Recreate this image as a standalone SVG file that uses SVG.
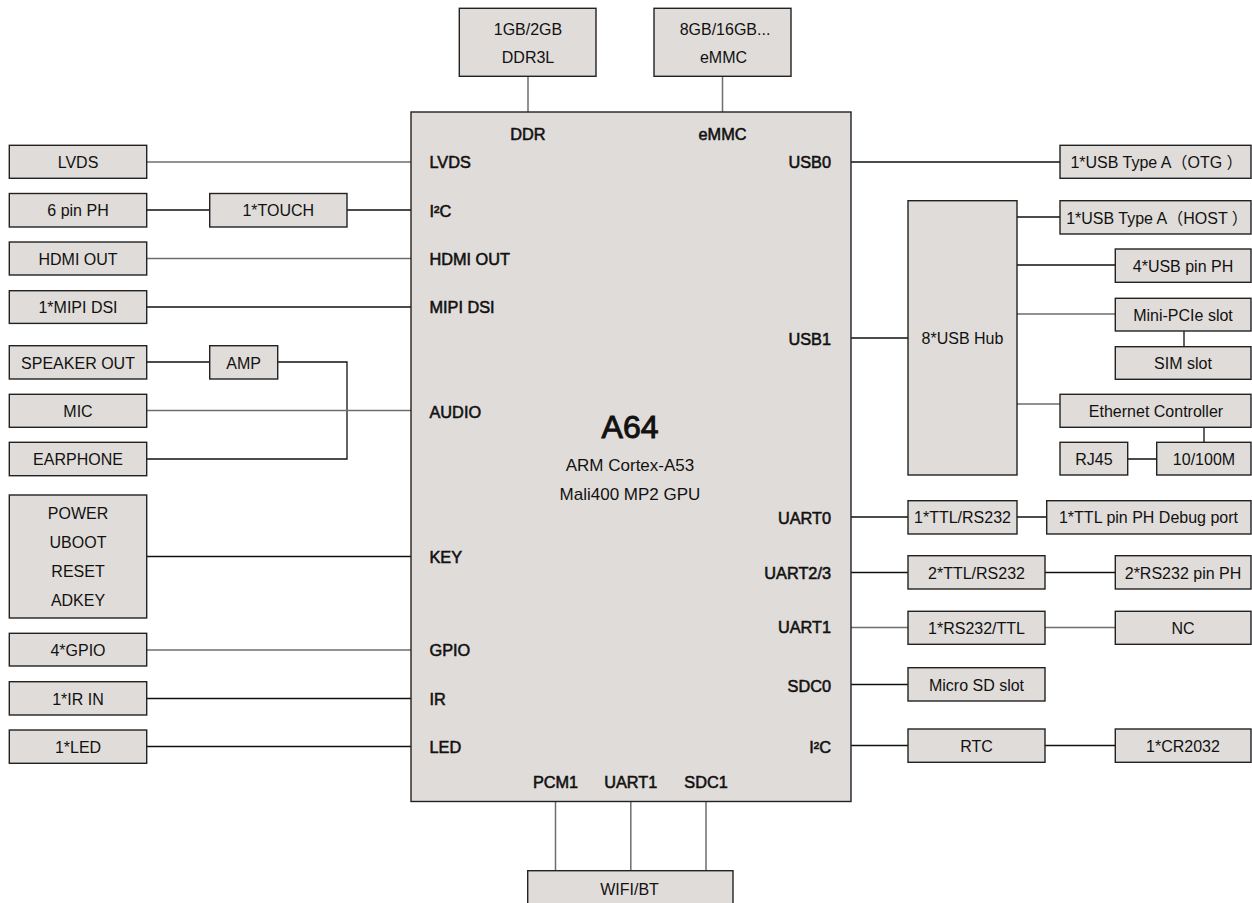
<svg xmlns="http://www.w3.org/2000/svg" width="1252" height="903" viewBox="0 0 1252 903">
<style>
.b{fill:#e0dcd9;stroke:#222;stroke-width:1.4}
.t{font-family:"Liberation Sans","Noto Sans CJK SC",Arial,sans-serif;font-size:16px;fill:#111;text-anchor:middle}
.l{font-family:"Liberation Sans",Arial,sans-serif;font-size:16.3px;fill:#111;stroke:#111;stroke-width:0.55}
.r{text-anchor:end}
.m{text-anchor:middle}
.c{fill:none;stroke:#111;stroke-width:1.3}
.g{fill:none;stroke:#6e6e6e;stroke-width:1.5}
</style>
<rect width="1252" height="903" fill="#fff"/>
<g id="connectors">
<path class="g" d="M528 76V112M722.5 76V112"/>
<path class="g" d="M146.7 162H411"/>
<path class="c" d="M146.7 210H209.7M347 210H411"/>
<path class="g" d="M146.7 258.5H411"/>
<path class="c" d="M146.7 307H411"/>
<path class="c" d="M146.7 362H209.7M277.7 362H347V459H146.7"/>
<path class="g" d="M146.7 410.5H411"/>
<path class="c" d="M146.7 556.5H411"/>
<path class="g" d="M146.7 650H411"/>
<path class="c" d="M146.7 698.5H411M146.7 746.5H411"/>
<path class="g" d="M555.5 801.5V871M630.8 801.5V871M706 801.5V871"/>
<path class="c" d="M851 162H1060M851 338H908M1017 217H1060M1017 265H1115"/>
<path class="g" d="M1017 314H1115M1017 404H1060"/>
<path class="c" d="M1184 331V347M1204 427V442M1127.7 459H1156.7"/>
<path class="c" d="M851 517H908M1017 517H1046.7M851 572.5H908M1045 572.5H1115"/>
<path class="g" d="M851 627.5H908M1045 627.5H1115"/>
<path class="c" d="M851 684.5H908M851 745.5H908M1045 745.5H1115"/>
</g>
<g id="a64">
<rect class="b" x="411" y="112" width="440" height="689.5"/>
<text class="l m" x="630" y="438" style="font-size:32px;stroke-width:1">A64</text>
<text class="t" x="630" y="470.5" style="font-size:17px">ARM Cortex-A53</text>
<text class="t" x="630" y="500" style="font-size:17px">Mali400 MP2 GPU</text>
<text class="l m" x="528" y="140">DDR</text>
<text class="l m" x="722.5" y="140">eMMC</text>
<text class="l" x="429.5" y="168">LVDS</text>
<text class="l" x="429.5" y="216.5">I²C</text>
<text class="l" x="429.5" y="265">HDMI OUT</text>
<text class="l" x="429.5" y="313.3">MIPI DSI</text>
<text class="l" x="429.5" y="417.5">AUDIO</text>
<text class="l" x="429.5" y="563.3">KEY</text>
<text class="l" x="429.5" y="656">GPIO</text>
<text class="l" x="429.5" y="705">IR</text>
<text class="l" x="429.5" y="752.7">LED</text>
<text class="l r" x="831" y="167.5">USB0</text>
<text class="l r" x="831" y="345">USB1</text>
<text class="l r" x="831" y="524">UART0</text>
<text class="l r" x="831" y="578.5">UART2/3</text>
<text class="l r" x="831" y="633.3">UART1</text>
<text class="l r" x="831" y="691.7">SDC0</text>
<text class="l r" x="831" y="753.3">I²C</text>
<text class="l m" x="555.5" y="788.3">PCM1</text>
<text class="l m" x="630.8" y="788.3">UART1</text>
<text class="l m" x="706" y="788.3">SDC1</text>
</g>
<g id="ddr"><rect class="b" x="459.3" y="8.3" width="136.7" height="68"/><text class="t" x="528" y="35">1GB/2GB</text><text class="t" x="528" y="63.3">DDR3L</text></g>
<g id="emmc"><rect class="b" x="654" y="8.3" width="137" height="68"/><text class="t" x="725" y="35">8GB/16GB...</text><text class="t" x="723.5" y="63.3">eMMC</text></g>
<g id="lvds"><rect class="b" x="9.3" y="145.3" width="137.4" height="33"/><text class="t" x="78" y="167.5">LVDS</text></g>
<g id="pinph6"><rect class="b" x="9.3" y="193.5" width="137.4" height="33.5"/><text class="t" x="78" y="216">6 pin PH</text></g>
<g id="touch"><rect class="b" x="209.7" y="193.5" width="137.3" height="33.5"/><text class="t" x="278.3" y="216">1*TOUCH</text></g>
<g id="hdmi"><rect class="b" x="9.3" y="242" width="137.4" height="33"/><text class="t" x="78" y="264.5">HDMI OUT</text></g>
<g id="mipi"><rect class="b" x="9.3" y="290.7" width="137.4" height="32.7"/><text class="t" x="78" y="313">1*MIPI DSI</text></g>
<g id="speaker"><rect class="b" x="9.3" y="345.7" width="137.4" height="33.3"/><text class="t" x="78" y="368.5">SPEAKER OUT</text></g>
<g id="amp"><rect class="b" x="209.7" y="345.7" width="68" height="33.3"/><text class="t" x="243.7" y="368.5">AMP</text></g>
<g id="mic"><rect class="b" x="9.3" y="394.3" width="137.4" height="33"/><text class="t" x="78" y="416.5">MIC</text></g>
<g id="earphone"><rect class="b" x="9.3" y="442.3" width="137.4" height="33.4"/><text class="t" x="78" y="465">EARPHONE</text></g>
<g id="keys"><rect class="b" x="9.3" y="495" width="137.4" height="123"/><text class="t" x="78" y="519.3">POWER</text><text class="t" x="78" y="548.3">UBOOT</text><text class="t" x="78" y="577.3">RESET</text><text class="t" x="78" y="606">ADKEY</text></g>
<g id="gpio"><rect class="b" x="9.3" y="633.3" width="137.4" height="32.7"/><text class="t" x="78" y="655.5">4*GPIO</text></g>
<g id="irin"><rect class="b" x="9.3" y="681.7" width="137.4" height="33.3"/><text class="t" x="78" y="704.5">1*IR IN</text></g>
<g id="led"><rect class="b" x="9.3" y="730" width="137.4" height="33.3"/><text class="t" x="78" y="752.5">1*LED</text></g>
<g id="wifibt"><rect class="b" x="527.7" y="870.7" width="205.3" height="40"/><text class="t" x="629.5" y="895">WIFI/BT</text></g>
<g id="usbotg"><rect class="b" x="1060" y="145.3" width="191" height="33"/><text class="t" x="1156.5" y="167.5">1*USB Type A（OTG ）</text></g>
<g id="usbhub"><rect class="b" x="908" y="200.7" width="109" height="274.3"/><text class="t" x="962.5" y="344">8*USB Hub</text></g>
<g id="usbhost"><rect class="b" x="1060" y="200.7" width="191" height="33.3"/><text class="t" x="1157" y="223.5">1*USB Type A（HOST ）</text></g>
<g id="usbpin"><rect class="b" x="1115.3" y="249" width="135.7" height="33.3"/><text class="t" x="1183" y="271.5">4*USB pin PH</text></g>
<g id="minipcie"><rect class="b" x="1115.3" y="298.3" width="135.7" height="32.7"/><text class="t" x="1183" y="320.5">Mini-PCIe slot</text></g>
<g id="sim"><rect class="b" x="1115.3" y="346.7" width="135.7" height="32.6"/><text class="t" x="1183" y="369">SIM slot</text></g>
<g id="eth"><rect class="b" x="1060" y="394.3" width="191" height="33"/><text class="t" x="1156" y="416.5">Ethernet Controller</text></g>
<g id="rj45"><rect class="b" x="1060" y="442.3" width="67.7" height="32.7"/><text class="t" x="1094" y="464.5">RJ45</text></g>
<g id="m100"><rect class="b" x="1156.7" y="442.3" width="94.3" height="32.7"/><text class="t" x="1204" y="464.5">10/100M</text></g>
<g id="ttl0"><rect class="b" x="908" y="500.7" width="109" height="33.3"/><text class="t" x="962.5" y="523">1*TTL/RS232</text></g>
<g id="debug"><rect class="b" x="1046.7" y="500.7" width="204.3" height="33.3"/><text class="t" x="1148.5" y="523">1*TTL pin PH Debug port</text></g>
<g id="ttl23"><rect class="b" x="908" y="555.7" width="137" height="33.3"/><text class="t" x="976.5" y="578.5">2*TTL/RS232</text></g>
<g id="rs232ph"><rect class="b" x="1115.3" y="555.7" width="135.7" height="33.3"/><text class="t" x="1183" y="578.5">2*RS232 pin PH</text></g>
<g id="rs232ttl"><rect class="b" x="908" y="611.3" width="137" height="33"/><text class="t" x="976.5" y="633.5">1*RS232/TTL</text></g>
<g id="nc"><rect class="b" x="1115.3" y="611.3" width="135.7" height="33"/><text class="t" x="1183" y="633.5">NC</text></g>
<g id="microsd"><rect class="b" x="908" y="667.7" width="137" height="33.3"/><text class="t" x="976.5" y="690.5">Micro SD slot</text></g>
<g id="rtc"><rect class="b" x="908" y="729" width="137" height="33.3"/><text class="t" x="976.5" y="751.5">RTC</text></g>
<g id="cr2032"><rect class="b" x="1115.3" y="729" width="135.7" height="33.3"/><text class="t" x="1183" y="751.5">1*CR2032</text></g>
</svg>
